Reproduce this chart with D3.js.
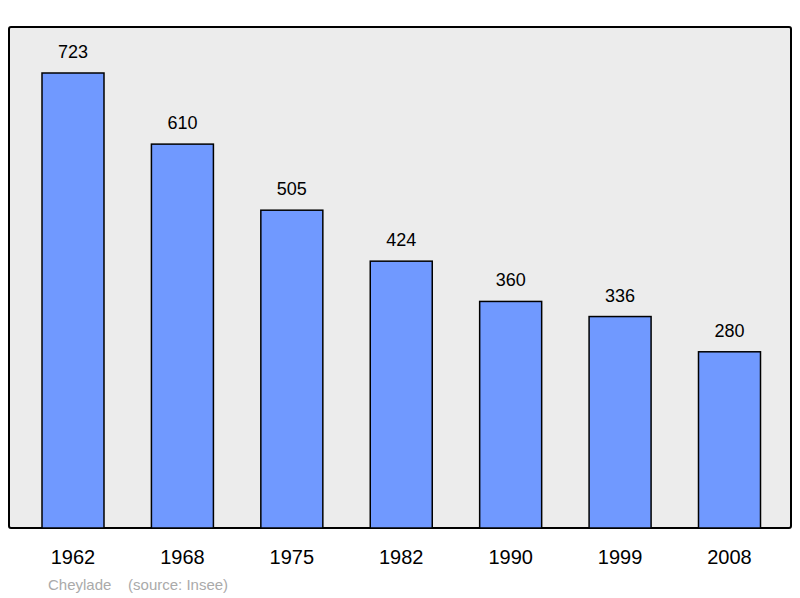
<!DOCTYPE html>
<html><head><meta charset="utf-8">
<script src="https://cdn.jsdelivr.net/npm/d3@7"></script>
<style>body{margin:0;background:#fff}</style></head>
<body><svg id="c" width="800" height="598"></svg>
<script>
const years = ["1962","1968","1975","1982","1990","1999","2008"];
const population = [723,610,505,424,360,336,280];
const place = "Cheylade";
const source = "(source: Insee)";

const svg = d3.select("#c");
svg.append("rect").attr("x",9).attr("y",27).attr("width",782).attr("height",501)
  .attr("rx",2).attr("fill","#ececec").attr("stroke","#000").attr("stroke-width",2);
const x = d3.scalePoint().domain(years).range([73,729.5]);
const y = d3.scaleLinear().domain([0,723]).range([528,73]);
const bw = 62;
const g = svg.append("g");
years.forEach((yr,i)=>{
  const v = population[i];
  g.append("rect").attr("x",x(yr)-bw/2).attr("y",y(v)).attr("width",bw).attr("height",y(0)-y(v))
    .attr("fill","#7099ff").attr("stroke","#000").attr("stroke-width",1.5);
  g.append("text").attr("x",x(yr)).attr("y",y(v)-15).attr("text-anchor","middle")
    .attr("font-family","Liberation Sans, Arial, sans-serif").attr("font-size",18).attr("fill","#000").text(v);
  g.append("text").attr("x",x(yr)).attr("y",564).attr("text-anchor","middle")
    .attr("font-family","Liberation Sans, Arial, sans-serif").attr("font-size",20).attr("fill","#000").text(yr);
});
svg.append("text").attr("x",48).attr("y",590).attr("font-family","Liberation Sans, Arial, sans-serif")
  .attr("font-size",15).attr("fill","#aaa").attr("xml:space","preserve").text(place+"    "+source);
</script></body></html>
